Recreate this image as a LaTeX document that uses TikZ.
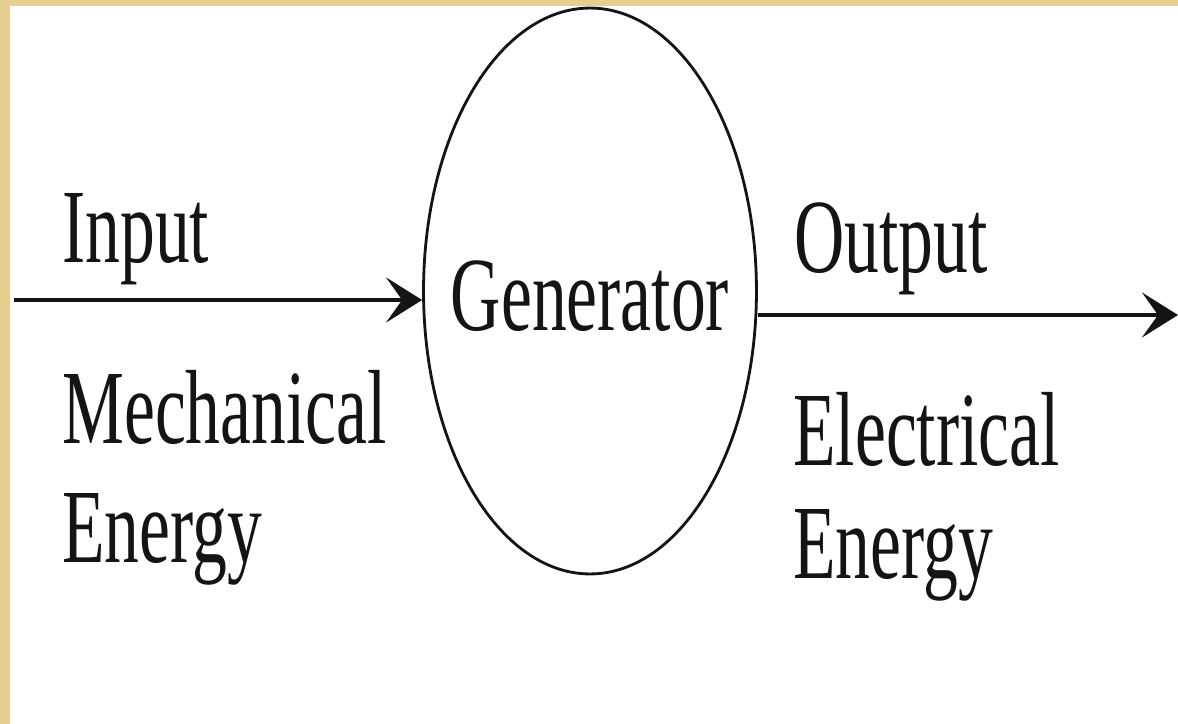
\documentclass[tikz,border=0pt]{standalone}
\usepackage{fontspec}
\setmainfont[FakeStretch=0.66]{Liberation Serif}
\usetikzlibrary{arrows.meta,shapes.geometric}
\definecolor{tan}{RGB}{232,206,142}
\definecolor{ink}{RGB}{20,20,20}
\tikzset{
  lbl/.style={anchor=base west, inner sep=0pt, font=\fontsize{60}{68}\selectfont, text=ink},
  gentext/.style={inner sep=0pt, font=\fontsize{60}{68}\selectfont, text=ink},
  arr/.style={draw=ink, line width=2.4pt, -{Stealth[length=0.72cm, width=0.9cm, inset=0.32cm]}},
  genbox/.style={ellipse, draw=ink, line width=1.6pt, minimum width=6.66cm, minimum height=11.32cm, inner sep=0pt}
}
\begin{document}
\begin{tikzpicture}[x=0.02cm, y=-0.02cm]
\useasboundingbox (0,0) rectangle (1178,724);
\fill[white] (0,0) rectangle (1178,724);
\node[genbox, label={[gentext, yshift=-0.1cm]center:Generator}] (gen) at (590,291) {};
\coordinate (inL) at (14,300);
\coordinate (outR) at (1178,315);
\draw[arr] (inL) -- (inL -| gen.west);
\draw[arr] (outR -| gen.east) -- (outR);
\node[lbl] (input) at (62,262) {Input};
\node[lbl] (mech) at (62,443) {Mechanical};
\node[lbl] (energyL) at (62,562) {Energy};
\node[lbl] (output) at (794,272) {Output};
\node[lbl] (elec) at (793,465) {Electrical};
\node[lbl] (energyR) at (793,578) {Energy};
\fill[tan] (0,0) rectangle (10,724);
\fill[tan] (0,0) rectangle (1178,6);
\end{tikzpicture}
\end{document}
